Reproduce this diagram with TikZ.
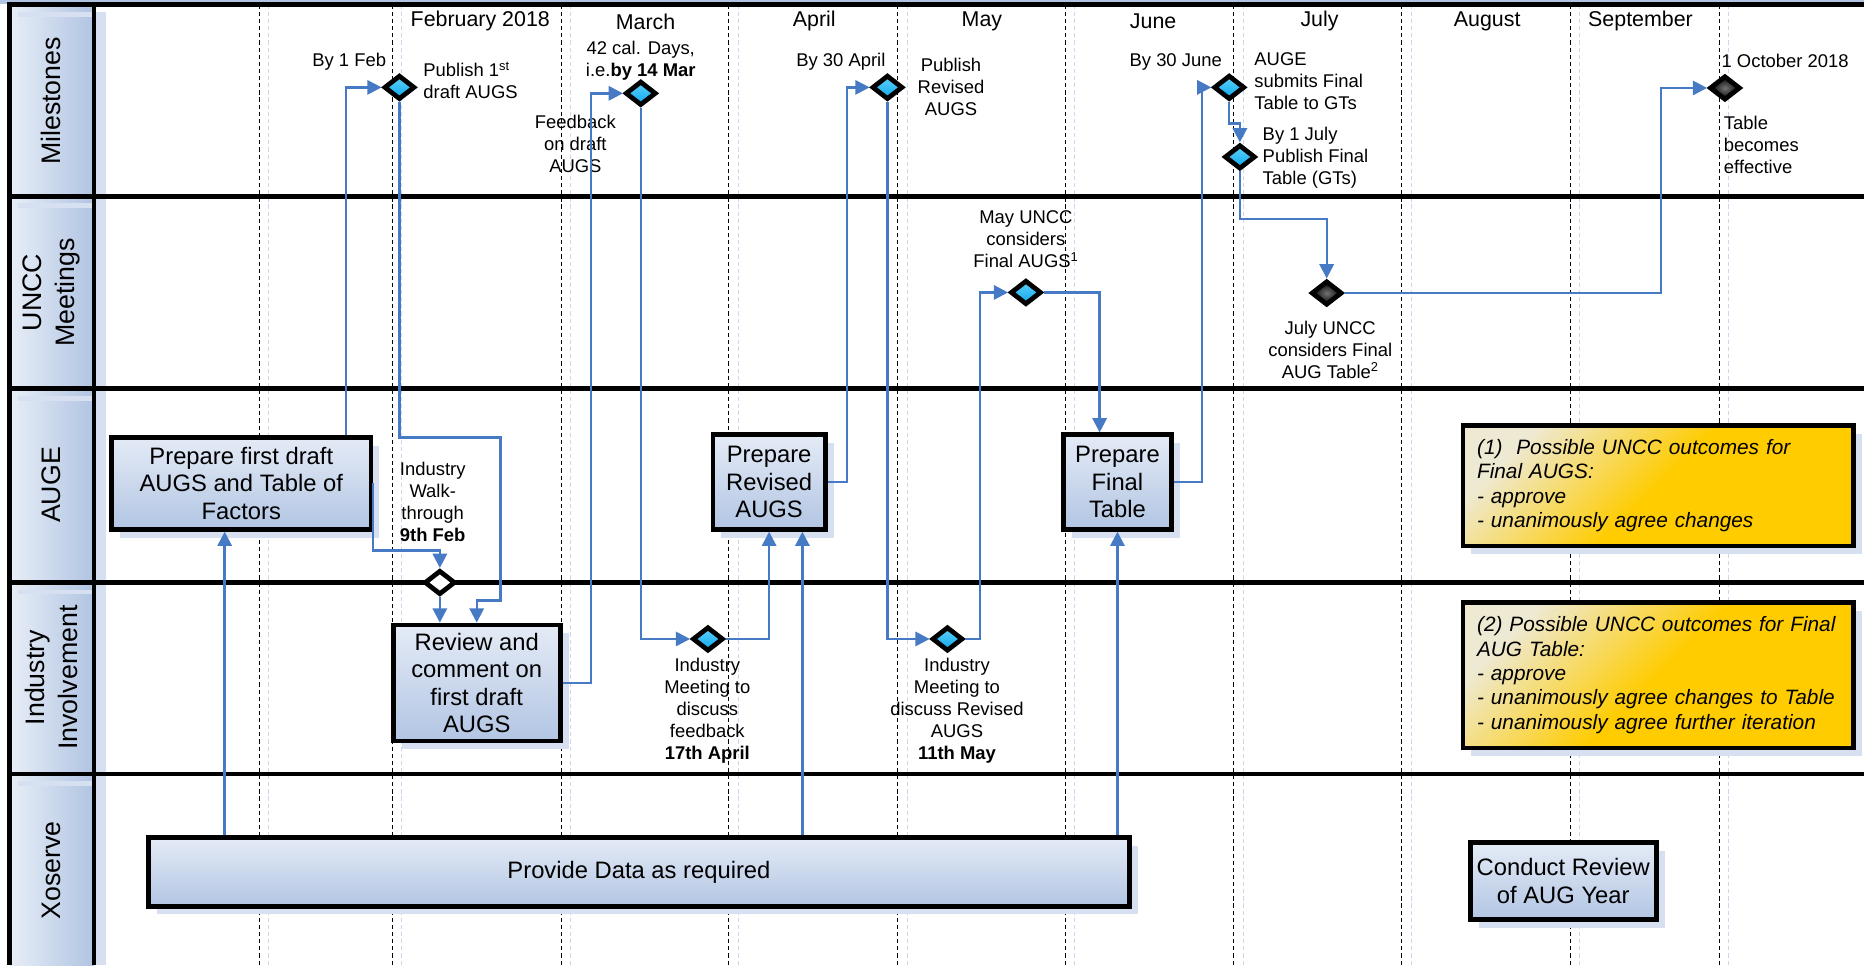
\documentclass[tikz,border=0pt]{standalone}
\usepackage{fontspec}
\setmainfont{Liberation Sans}
\usetikzlibrary{shapes.geometric,arrows.meta,shadows}

\definecolor{lanelight}{RGB}{232,238,247}
\definecolor{lanedark}{RGB}{176,196,226}
\definecolor{boxlight}{RGB}{228,235,246}
\definecolor{boxdark}{RGB}{178,197,227}
\definecolor{shadowblue}{RGB}{214,224,241}
\definecolor{flowblue}{RGB}{70,122,196}
\definecolor{cyanlight}{RGB}{95,208,250}
\definecolor{cyandark}{RGB}{12,168,236}
\definecolor{notelight}{RGB}{238,233,210}
\definecolor{notegold}{RGB}{255,204,0}
\definecolor{monthshadow}{RGB}{205,214,236}

\tikzset{
  lane/.style={line width=4pt},
  monthline/.style={line width=0.8pt, dash pattern=on 3.5pt off 2.5pt},
  monthshade/.style={monthline, draw=monthshadow},
  lanelabel/.style={rotate=90, align=center, font=\fontsize{22.5}{27.5}\selectfont},
  month/.style={font=\fontsize{18}{21}\selectfont},
  lbl/.style={align=center, inner sep=0pt, font=\fontsize{15.5}{18.5}\selectfont},
  boxshadow/.style={drop shadow={shadow xshift=7pt, shadow yshift=-7pt, opacity=1, fill=shadowblue}},
  task/.style={draw, line width=4pt, align=center, top color=boxlight, bottom color=boxdark, font=\fontsize{20}{23}\selectfont, boxshadow},
  note/.style={draw, line width=4pt, align=left, text width=305pt, inner xsep=11.75pt, left color=notelight, right color=notegold, middle color=notegold, shading angle=45, font=\itshape\fontsize{17.5}{20.5}\selectfont, boxshadow},
  diam/.style={diamond, draw, line width=4pt, minimum width=26pt, minimum height=20.5pt, inner sep=0pt},
  event/.style={diam, top color=cyanlight, bottom color=cyandark},
  darkevent/.style={diam, inner color=black!55, outer color=black},
  gate/.style={diam, fill=white},
  flow/.style={->, draw=flowblue, line width=2pt}
}

\begin{document}
\begin{tikzpicture}[x=1pt, y=-1pt, >={Triangle[length=12pt,width=12pt]}]
\useasboundingbox (0,0) rectangle (1568,812);

\fill [lanedark] (0,0) rectangle (1568,3);
\shade [left color=lanelight, right color=lanedark] (8,4) rectangle (79,812);
\fill [shadowblue] (81,10) rectangle (89,812);
\foreach \y in {4,165,327,490,651}
  \fill [shadowblue] (15,\y+6) rectangle (89,\y+10);

\foreach \x in {218,330,472,613,755,896,1038,1179,1321,1446} {
  \draw [monthshade] (\x+8,4) -- (\x+8,812);
  \draw [monthline] (\x,4) -- (\x,812);
}

\draw [lane] (8,4) -- (1568,4);
\foreach \y in {165,327,490,651}
  \draw [lane] (8,\y) -- (1568,\y);
\draw [lane] (8,2) -- (8,812);
\draw [lane] (79,2) -- (79,812);

\node [lanelabel] (milestones) at (43,85) {Milestones};
\node [lanelabel] (uncc) at (43,246) {UNCC\\Meetings};
\node [lanelabel] (auge) at (43,408) {AUGE};
\node [lanelabel] (industry) at (43,570) {Industry\\Involvement};
\node [lanelabel] (xoserve) at (43,732) {Xoserve};

\node [month] (feb) at (404,18) {February 2018};
\node [month] (mar) at (543,18) {March};
\node [month] (apr) at (685,18) {April};
\node [month] (may) at (826,18) {May};
\node [month] (jun) at (970,18) {June};
\node [month] (jul) at (1110,18) {July};
\node [month] (aug) at (1251,18) {August};
\node [month] (sep) at (1380,18) {September};

\node [task, minimum width=218pt, minimum height=77.5pt] (draftbox) at (203,406.5) {Prepare first draft\\AUGS and Table of\\Factors};
\node [task, minimum width=140.5pt, minimum height=97.5pt] (reviewbox) at (401,574.5) {Review and\\comment on\\first draft\\AUGS};
\node [task, minimum width=94.5pt, minimum height=79.5pt] (revisedbox) at (647,405.5) {Prepare\\Revised\\AUGS};
\node [task, minimum width=90.5pt, minimum height=79.5pt] (finalbox) at (940,405.5) {Prepare\\Final\\Table};
\node [task, minimum width=825.5pt, minimum height=57.5pt] (databox) at (537.5,733.5) {Provide Data as required};
\node [task, minimum width=156.5pt, minimum height=64.5pt] (conductbox) at (1315,741) {Conduct Review\\of AUG Year};

\node [note, minimum height=101.5pt] (noteone) at (1395,408.5) {(1)\ \ Possible UNCC outcomes for\\Final AUGS:\\- approve\\- unanimously agree changes};
\node [note, minimum height=122.5pt] (notetwo) at (1395,568) {(2) Possible UNCC outcomes for Final\\AUG Table:\\- approve\\- unanimously agree changes to Table\\- unanimously agree further iteration};

\node [event] (pubfirst) at (336,73.5) {};
\node [event] (feedback) at (539,78.5) {};
\node [event] (pubrevised) at (746.5,73.5) {};
\node [event] (submit) at (1034,73.5) {};
\node [event] (pubfinal) at (1043,132) {};
\node [darkevent] (effective) at (1451,74) {};
\node [event] (unccmay) at (863,246) {};
\node [darkevent] (uncjuly) at (1116,246.5) {};
\node [gate] (walk) at (370,490) {};
\node [event] (meetapril) at (595.5,537.5) {};
\node [event] (meetmay) at (797,537.5) {};

\node [lbl, anchor=east] (byfeb) at (325,52) {By 1 Feb};
\node [lbl, anchor=west, align=left] (pubfirsttext) at (356,67.5) {Publish 1\textsuperscript{st}\\draft AUGS};
\node [lbl] (days) at (539,51) {42 cal. Days,\\i.e.\textbf{by 14 Mar}};
\node [lbl] (feedbacktext) at (484,121) {Feedback\\on draft\\AUGS};
\node [lbl, anchor=east] (byapril) at (745,52) {By 30 April};
\node [lbl] (pubrevisedtext) at (800,73) {Publish\\Revised\\AUGS};
\node [lbl, anchor=east] (byjune) at (1028,52) {By 30 June};
\node [lbl, anchor=west, align=left] (submittext) at (1055,68) {AUGE\\submits Final\\Table to GTs};
\node [lbl, anchor=west, align=left] (pubfinaltext) at (1062,133) {By 1 July\\Publish Final\\Table (GTs)};
\node [lbl, anchor=west] (october) at (1448,51) {1 October 2018};
\node [lbl, anchor=west, align=left] (effectivetext) at (1450,122) {Table\\becomes\\effective};
\node [lbl] (unccmaytext) at (863,201) {May UNCC\\considers\\Final AUGS\textsuperscript{1}};
\node [lbl] (uncjulytext) at (1119,294) {July UNCC\\considers Final\\AUG Table\textsuperscript{2}};
\node [lbl] (walktext) at (364,422) {Industry\\Walk-\\through\\\textbf{9th Feb}};
\node [lbl] (meetapriltext) at (595,598) {Industry\\Meeting to\\discuss\\feedback\\\textbf{17th April}};
\node [lbl] (meetmaytext) at (805,598) {Industry\\Meeting to\\discuss Revised\\AUGS\\\textbf{11th May}};

\coordinate (draftin) at ([xshift=-14pt]draftbox.south);
\coordinate (revisedin) at ([xshift=28pt]revisedbox.south);
\coordinate (finalin) at ([xshift=-15pt]finalbox.north);

\draw [flow] ([xshift=88pt]draftbox.north) |- (pubfirst.west);
\draw [flow] (pubfirst.south) |- (421,368) |- (401,505) -- (reviewbox.north);
\draw [flow] (draftbox.east) |- (370,463) -- (walk.north);
\draw [flow] (walk.south) -- (walk.south |- reviewbox.north);
\draw [flow] (draftin |- databox.north) -- (draftin);
\draw [flow] (reviewbox.east) -- ++(24,0) |- (feedback.west);
\draw [flow] (feedback.south) |- (meetapril.west);
\draw [flow] (meetapril.east) -| (revisedbox.south);
\draw [flow] (revisedin |- databox.north) -- (revisedin);
\draw [flow] (revisedbox.east) -- ++(16,0) |- (pubrevised.west);
\draw [flow] (pubrevised.south) |- (meetmay.west);
\draw [flow] (meetmay.east) -- ++(12.5,0) |- (unccmay.west);
\draw [flow] (unccmay.east) -| (finalin);
\draw [flow] (finalbox.south |- databox.north) -- (finalbox.south);
\draw [flow] (finalbox.east) -- ++(24,0) |- (submit.west);
\draw [flow] (submit.south) -- ++(0,18) -| (pubfinal.north);
\draw [flow] (pubfinal.south) -- ++(0,40) -| (uncjuly.north);
\draw [flow] (uncjuly.east) -- ++(266,0) |- (effective.west);

\end{tikzpicture}
\end{document}
